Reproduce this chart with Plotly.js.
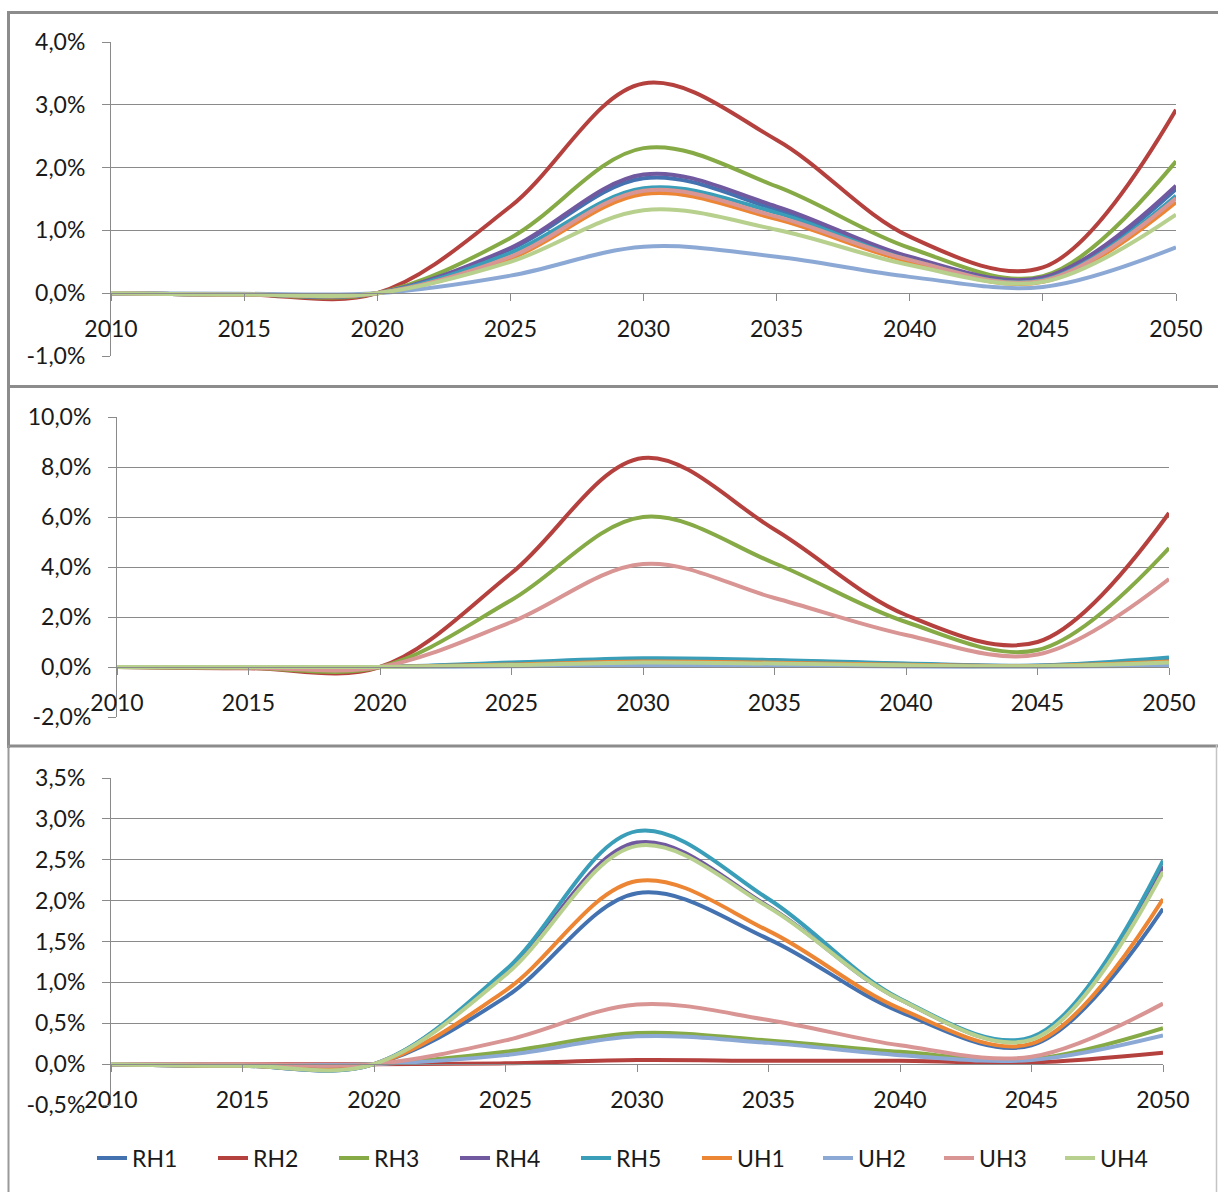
<!DOCTYPE html>
<html>
<head>
<meta charset="utf-8">
<script src="https://cdn.plot.ly/plotly-3.0.1.min.js"></script>
<style>
  html, body { margin: 0; padding: 0; background: #ffffff; }
  #chart { width: 1218px; height: 1192px; }
</style>
</head>
<body>
<div id="chart"></div>
<script>
// ---------------- DATA ----------------
const years = [2010, 2015, 2020, 2025, 2030, 2035, 2040, 2045, 2050];
const seriesNames = ["RH1", "RH2", "RH3", "RH4", "RH5", "UH1", "UH2", "UH3", "UH4"];
const seriesColors = ["#4472B0", "#B5413E", "#86AA45", "#7159A0", "#3A9EB9", "#EC8534", "#8CA9D6", "#D89593", "#B8D08E"];

// Panel 1 (%)
const p1_RH1 = [0, -0.02, 0, 0.70, 1.83, 1.33, 0.55, 0.23, 1.66];
const p1_RH2 = [0, -0.02, 0, 1.38, 3.34, 2.44, 0.90, 0.41, 2.92];
const p1_RH3 = [0, -0.02, 0, 0.88, 2.31, 1.70, 0.72, 0.27, 2.10];
const p1_RH4 = [0, -0.02, 0, 0.72, 1.89, 1.38, 0.58, 0.25, 1.71];
const p1_RH5 = [0, -0.02, 0, 0.64, 1.67, 1.28, 0.53, 0.21, 1.55];
const p1_UH1 = [0, -0.02, 0, 0.55, 1.58, 1.18, 0.50, 0.18, 1.45];
const p1_UH2 = [0, -0.01, 0, 0.28, 0.74, 0.58, 0.26, 0.10, 0.73];
const p1_UH3 = [0, -0.02, 0, 0.58, 1.63, 1.22, 0.53, 0.20, 1.51];
const p1_UH4 = [0, -0.02, 0, 0.50, 1.32, 1.01, 0.45, 0.18, 1.25];

// Panel 2 (%)
const p2_RH1 = [0, 0, 0, 0.15, 0.30, 0.25, 0.12, 0.05, 0.30];
const p2_RH2 = [0, -0.05, 0, 3.76, 8.36, 5.50, 2.08, 1.00, 6.16];
const p2_RH3 = [0, -0.04, 0, 2.68, 6.00, 4.15, 1.80, 0.68, 4.76];
const p2_RH4 = [0, 0, 0, 0.12, 0.25, 0.20, 0.10, 0.04, 0.25];
const p2_RH5 = [0, 0, 0, 0.18, 0.35, 0.28, 0.14, 0.06, 0.38];
const p2_UH1 = [0, 0, 0, 0.10, 0.22, 0.17, 0.09, 0.04, 0.22];
const p2_UH2 = [0, 0, 0, 0.03, 0.06, 0.05, 0.02, 0.01, 0.05];
const p2_UH3 = [0, -0.03, 0, 1.80, 4.12, 2.76, 1.28, 0.50, 3.52];
const p2_UH4 = [0, 0, 0, 0.08, 0.18, 0.14, 0.07, 0.03, 0.18];

// Panel 3 (%)
const p3_RH1 = [0, -0.02, 0, 0.82, 2.09, 1.53, 0.64, 0.23, 1.90];
const p3_RH2 = [0, 0, 0, 0.01, 0.05, 0.04, 0.04, 0.02, 0.14];
const p3_RH3 = [0, -0.01, 0, 0.15, 0.38, 0.29, 0.15, 0.06, 0.44];
const p3_RH4 = [0, -0.02, 0, 1.12, 2.71, 1.93, 0.79, 0.31, 2.42];
const p3_RH5 = [0, -0.02, 0, 1.15, 2.85, 2.02, 0.80, 0.33, 2.49];
const p3_UH1 = [0, -0.02, 0, 0.90, 2.24, 1.63, 0.68, 0.25, 2.02];
const p3_UH2 = [0, -0.01, 0, 0.11, 0.34, 0.26, 0.11, 0.05, 0.35];
const p3_UH3 = [0, 0, 0, 0.29, 0.73, 0.54, 0.23, 0.09, 0.74];
const p3_UH4 = [0, -0.02, 0, 1.09, 2.67, 1.92, 0.79, 0.30, 2.35];

// Tick labels
const xTickVals = [2010, 2015, 2020, 2025, 2030, 2035, 2040, 2045, 2050];
const p1_yTickVals = [-1, 0, 1, 2, 3, 4];
const p1_yTickText = ["-1,0%", "0,0%", "1,0%", "2,0%", "3,0%", "4,0%"];
const p2_yTickVals = [-2, 0, 2, 4, 6, 8, 10];
const p2_yTickText = ["-2,0%", "0,0%", "2,0%", "4,0%", "6,0%", "8,0%", "10,0%"];
const p3_yTickVals = [-0.5, 0, 0.5, 1, 1.5, 2, 2.5, 3, 3.5];
const p3_yTickText = ["-0,5%", "0,0%", "0,5%", "1,0%", "1,5%", "2,0%", "2,5%", "3,0%", "3,5%"];

// ---------------- LAYOUT ----------------
const W = 1218, H = 1192;
const FONT = "Lato, 'Open Sans', sans-serif";
const FS = 23;
const TXT = "#1a1a1a";
const GRID = "#8a8a8a";

const panels = [
  { data: [p1_RH1, p1_RH2, p1_RH3, p1_RH4, p1_RH5, p1_UH1, p1_UH2, p1_UH3, p1_UH4],
    xl: 111, xr: 1176, yt: 42, yb: 356, range: [-1, 4], tv: p1_yTickVals, tt: p1_yTickText },
  { data: [p2_RH1, p2_RH2, p2_RH3, p2_RH4, p2_RH5, p2_UH1, p2_UH2, p2_UH3, p2_UH4],
    xl: 117, xr: 1169, yt: 417, yb: 717, range: [-2, 10], tv: p2_yTickVals, tt: p2_yTickText },
  { data: [p3_RH1, p3_RH2, p3_RH3, p3_RH4, p3_RH5, p3_UH1, p3_UH2, p3_UH3, p3_UH4],
    xl: 111, xr: 1163, yt: 778, yb: 1105, range: [-0.5, 3.5], tv: p3_yTickVals, tt: p3_yTickText }
];

const traces = [];
const layout = {
  width: W, height: H,
  margin: { l: 0, r: 0, t: 0, b: 0 },
  paper_bgcolor: "#ffffff",
  plot_bgcolor: "rgba(0,0,0,0)",
  font: { family: FONT, size: FS, color: TXT },
  showlegend: true,
  legend: {
    orientation: "h",
    x: 92 / W, xanchor: "left",
    y: 1 - 1158 / H, yanchor: "middle",
    entrywidth: 76, entrywidthmode: "pixels",
    font: { family: FONT, size: FS, color: TXT },
    bgcolor: "rgba(0,0,0,0)",
    itemwidth: 30,
    traceorder: "normal"
  },
  shapes: []
};

panels.forEach((p, i) => {
  const n = i === 0 ? "" : String(i + 1);
  const xa = "x" + n, ya = "y" + n;
  const yTop = 1 - p.yt / H, yBot = 1 - p.yb / H;
  const zeroPx = p.yt + (p.yb - p.yt) * (p.range[1] - 0) / (p.range[1] - p.range[0]);
  layout["xaxis" + n] = {
    domain: [p.xl / W, p.xr / W],
    range: [2010, 2050],
    anchor: "free",
    position: 1 - zeroPx / H,
    tickvals: xTickVals,
    ticktext: xTickVals.map(String),
    ticks: "outside", ticklen: 7, tickwidth: 1, tickcolor: GRID,
    showline: true, linecolor: GRID, linewidth: 1,
    showgrid: false, zeroline: false,
    ticklabelstandoff: 8,
    tickfont: { family: FONT, size: FS, color: TXT },
    fixedrange: true
  };
  layout["yaxis" + n] = {
    domain: [yBot, yTop],
    range: p.range,
    anchor: xa,
    tickvals: p.tv, ticktext: p.tt,
    ticks: "outside", ticklen: 8, tickwidth: 1, tickcolor: GRID,
    showline: true, linecolor: GRID, linewidth: 1,
    showgrid: true, gridcolor: GRID, gridwidth: 1,
    zeroline: false,
    ticklabelstandoff: 12,
    tickfont: { family: FONT, size: FS, color: TXT },
    fixedrange: true
  };
  p.data.forEach((vals, k) => {
    traces.push({
      type: "scatter", mode: "lines",
      x: years, y: vals,
      xaxis: xa, yaxis: ya,
      name: seriesNames[k],
      legendgroup: seriesNames[k],
      showlegend: i === 2,
      line: { color: seriesColors[k], width: 4, shape: "spline", smoothing: 1 },
      hoverinfo: "skip"
    });
  });
});

// Panel frames
const BORDER = "#8c8c8c";
function hline(y, x0, x1, w, c) {
  layout.shapes.push({ type: "line", xref: "paper", yref: "paper",
    x0: x0 / W, x1: x1 / W, y0: 1 - y / H, y1: 1 - y / H, line: { color: c, width: w } });
}
function vline(x, y0, y1, w, c) {
  layout.shapes.push({ type: "line", xref: "paper", yref: "paper",
    x0: x / W, x1: x / W, y0: 1 - y0 / H, y1: 1 - y1 / H, line: { color: c, width: w } });
}
hline(12.5, 7, 1218, 3, BORDER);
hline(386.5, 7, 1218, 3, BORDER);
hline(746, 7, 1218, 3, BORDER);
vline(8.5, 11, 388, 3, BORDER);
vline(8.5, 385, 748, 3, BORDER);
vline(8.5, 745, 1192, 2, "#9a9a9a");
vline(1216.5, 745, 1192, 1.5, "#c4c4c4");

Plotly.newPlot("chart", traces, layout, { displayModeBar: false, staticPlot: true });
</script>
</body>
</html>
